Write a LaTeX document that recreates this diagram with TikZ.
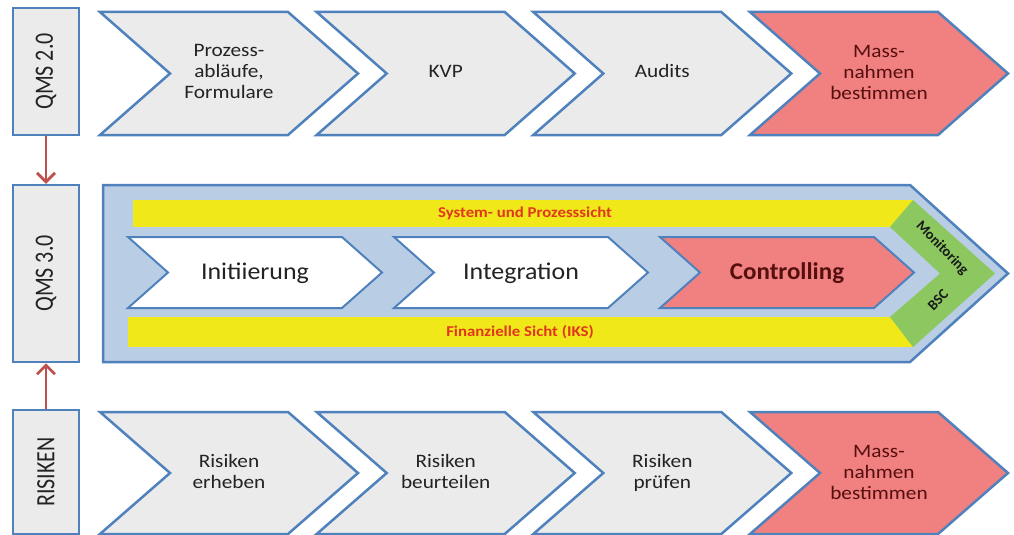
\documentclass[tikz,border=0pt]{standalone}
\usepackage{fontspec}
\setmainfont{Carlito}
\usepackage{graphicx}
\usetikzlibrary{arrows.meta}
\definecolor{bordblue}{RGB}{79,129,189}
\definecolor{chgray}{RGB}{235,235,235}
\definecolor{chred}{RGB}{241,128,128}
\definecolor{ltblue}{RGB}{185,205,229}
\definecolor{ybar}{RGB}{240,232,24}
\definecolor{gband}{RGB}{140,200,95}
\definecolor{txtred}{RGB}{225,55,30}
\definecolor{dred}{RGB}{85,15,15}
\definecolor{arrred}{RGB}{192,80,77}
\definecolor{txtdark}{RGB}{35,35,35}
\newcommand\mychev[6]{%
  \path[#6] (#1,#2) -- ({#1+#4-#5},#2) -- ({#1+#4},{(#2+#3)/2}) -- ({#1+#4-#5},#3) -- (#1,#3) -- ({#1+#5},{(#2+#3)/2}) -- cycle;}
\newcommand\lbl[1]{\scalebox{1.12}[1]{\begin{tabular}{@{}c@{}}#1\end{tabular}}}
\newcommand\slbl[1]{\scalebox{1}[1.2]{#1}}
\begin{document}
\begin{tikzpicture}[x=1pt,y=-1pt,
  chevgray/.style={draw=bordblue, line width=2.5pt, fill=chgray, line join=miter},
  chevred/.style={draw=bordblue, line width=2.5pt, fill=chred, line join=miter},
  chevwhite/.style={draw=bordblue, line width=2pt, fill=white, line join=miter},
  chevctrl/.style={draw=bordblue, line width=2pt, fill=chred, line join=miter},
  ctext/.style={font=\fontsize{19}{21}\selectfont, text=txtdark, inner sep=0pt},
  rtext/.style={font=\fontsize{19}{21}\selectfont, text=dred, inner sep=0pt},
  bigtext/.style={font=\fontsize{24}{28}\selectfont, text=txtdark, inner sep=0pt},
  bigred/.style={font=\bfseries\fontsize{24}{28}\selectfont, text=dred, inner sep=0pt},
  bartext/.style={font=\bfseries\fontsize{15}{18}\selectfont, text=txtred, inner sep=0pt},
  greentext/.style={font=\bfseries\fontsize{14.5}{16}\selectfont, text=black!90, inner sep=0pt},
  sidebox/.style={draw=bordblue, line width=2.5pt, fill=chgray, minimum width=66pt, inner sep=0pt},
  sidelabel/.style={font=\fontsize{22}{26}\selectfont, text=txtdark, rotate=90, inner sep=0pt},
  connector/.style={draw=arrred, line width=2.8pt, -{Straight Barb[length=9pt,width=18pt]}}
]
\useasboundingbox[fill=white] (0,0) rectangle (1014,535);

% left boxes
\node[sidebox, minimum height=127pt] (qms2) at (46,71.5) {};
\node[sidelabel] (qms2t) at (qms2) {\slbl{QMS 2.0}};
\node[sidebox, minimum height=177pt] (qms3) at (46,273.5) {};
\node[sidelabel] (qms3t) at (qms3) {\slbl{QMS 3.0}};
\node[sidebox, minimum height=124pt] (risk) at (46,472) {};
\node[sidelabel] (riskt) at (risk) {\slbl{RISIKEN}};
\draw[connector] (qms2.south) -- (qms3.north);
\draw[connector] (risk.north) -- (qms3.south);

% top row
\mychev{100}{12}{135}{258}{70}{chevgray}
\node[ctext] (t1) at (229,73.5) {\lbl{Prozess-\\abläufe,\\Formulare}};
\mychev{316.7}{12}{135}{258}{70}{chevgray}
\node[ctext] (t2) at (445.7,73.5) {\lbl{KVP}};
\mychev{533.3}{12}{135}{258}{70}{chevgray}
\node[ctext] (t3) at (662.3,73.5) {\lbl{Audits}};
\mychev{750}{12}{135}{258}{70}{chevred}
\node[rtext] (t4) at (879,74.5) {\lbl{Mass-\\nahmen\\bestimmen}};

% bottom row
\mychev{100}{412}{534}{258}{70}{chevgray}
\node[ctext] (b1) at (229,474) {\lbl{Risiken\\erheben}};
\mychev{316.7}{412}{534}{258}{70}{chevgray}
\node[ctext] (b2) at (445.7,474) {\lbl{Risiken\\beurteilen}};
\mychev{533.3}{412}{534}{258}{70}{chevgray}
\node[ctext] (b3) at (662.3,474) {\lbl{Risiken\\prüfen}};
\mychev{750}{412}{534}{258}{70}{chevred}
\node[rtext] (b4) at (879,474) {\lbl{Mass-\\nahmen\\bestimmen}};

% middle
\path[fill=ltblue, draw=bordblue, line width=2.5pt, line join=miter]
  (103,185) -- (910,185) -- (1008,273.5) -- (910,362) -- (103,362) -- cycle;
\path[fill=ybar] (133,200) rectangle (913,227);
\path[fill=ybar] (128,317) rectangle (913,347);
\path[fill=gband] (913,200) -- (995,273.5) -- (913,347) -- (890,317) -- (940,273.5) -- (890,227) -- cycle;
\node[bartext] (sys) at (525,213.5) {\scalebox{1.12}[1]{System- und Prozesssicht}};
\node[bartext] (fin) at (520,332) {\scalebox{1.12}[1]{Finanzielle Sicht (IKS)}};
\node[greentext, rotate=-46] (mon) at (942,248) {Monitoring};
\node[greentext, rotate=46] (bsc) at (938,300) {BSC};

\mychev{128}{237}{308}{254}{40}{chevwhite}
\node[bigtext] (init) at (255,273) {\scalebox{1.08}[1]{Initiierung}};
\mychev{394}{237}{308}{254}{40}{chevwhite}
\node[bigtext] (integ) at (521,273) {\scalebox{1.08}[1]{Integration}};
\mychev{660}{237}{308}{254}{40}{chevctrl}
\node[bigred] (ctrl) at (787,273) {\scalebox{1.04}[1]{Controlling}};
\end{tikzpicture}
\end{document}
